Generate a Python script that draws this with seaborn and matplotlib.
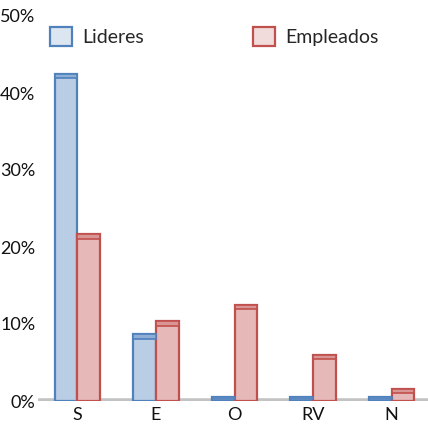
import matplotlib
matplotlib.use("Agg")
import matplotlib.pyplot as plt
import matplotlib.transforms as mtransforms
from matplotlib.patches import Rectangle
import seaborn as sns
import pandas as pd

categories = ["S", "E", "O", "RV", "N"]
lideres = [42.5, 8.7, 0.5, 0.5, 0.5]
empleados = [21.7, 10.4, 12.5, 6.0, 1.6]
series_names = ["Lideres", "Empleados"]
y_ticks = [0, 10, 20, 30, 40, 50]

df = pd.DataFrame({
    "categoria": categories * 2,
    "grupo": [series_names[0]] * len(categories) + [series_names[1]] * len(categories),
    "valor": lideres + empleados,
})

sns.set_theme(style="white")
plt.rcParams["font.family"] = ["Lato", "DejaVu Sans"]

fill_colors = {"Lideres": "#b9cde5", "Empleados": "#e6b9b8"}
edge_colors = {"Lideres": "#4f81bd", "Empleados": "#c0504d"}
top_colors = {"Lideres": "#8eaed6", "Empleados": "#d99594"}

fig = plt.figure(figsize=(4.28, 4.37), dpi=100)
ax = fig.add_axes([38 / 428, 36 / 437, 393 / 428, 385 / 437])

sns.barplot(data=df, x="categoria", y="valor", hue="grupo", order=categories,
            hue_order=series_names, palette=fill_colors, width=0.58,
            saturation=1, ax=ax, zorder=2)

# outline each bar in the darker tone of its series and shade its top face
n = len(categories)
top_depth = 0.6
for i, p in enumerate(list(ax.patches[:2 * n])):
    name = series_names[i // n]
    p.set_edgecolor(edge_colors[name])
    p.set_linewidth(1.6)
    h = p.get_height()
    d = min(top_depth, h * 0.5)
    ax.add_patch(Rectangle((p.get_x(), h - d), p.get_width(), d,
                           facecolor=top_colors[name], edgecolor=edge_colors[name],
                           linewidth=1.2, zorder=3))

ax.axhline(0, color="#c3c3c3", lw=4, zorder=1)

ax.set_xlim(-0.5, len(categories) - 0.5)
ax.set_ylim(0, 50)
ax.set_yticks(y_ticks)
ax.set_yticklabels([f"{t}%" for t in y_ticks], fontsize=13, color="#111111")
offset = mtransforms.ScaledTranslation(0, -4 / 72, fig.dpi_scale_trans)
for lbl in ax.get_yticklabels():
    lbl.set_transform(lbl.get_transform() + offset)
ax.tick_params(axis="y", length=0, pad=2)
ax.tick_params(axis="x", length=0, pad=4, labelsize=13, labelcolor="#111111")
ax.set_xlabel("")
ax.set_ylabel("")
for s in ax.spines.values():
    s.set_visible(False)

handles, labels = ax.get_legend_handles_labels()
ax.get_legend().remove()
for h, name in zip(handles, labels):
    h.set_edgecolor(edge_colors[name])
    h.set_facecolor("#dce6f1" if name == "Lideres" else "#f2dcdb")
    h.set_linewidth(1.6)
fig.legend(handles, labels, loc="upper left", bbox_to_anchor=(50 / 428, 1 - 27 / 437),
           ncol=2, frameon=False, fontsize=14, handlelength=1.15, handleheight=1.15,
           handletextpad=0.5, columnspacing=5.6, borderpad=0, borderaxespad=0)

fig.savefig("out.png", dpi=100)
